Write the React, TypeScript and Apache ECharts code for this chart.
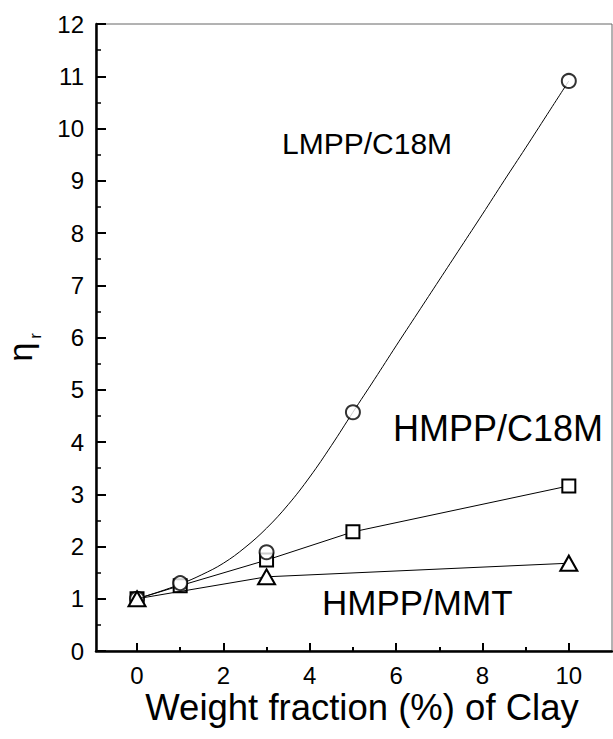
import React, { useEffect, useRef } from "react";
import * as echarts from "echarts";

const xMajorTicks = [0, 2, 4, 6, 8, 10];
const xMinorTicks = [1, 3, 5, 7, 9];

const lmppPoints: [number, number][] = [
  [0, 1.0], [1, 1.3], [3, 1.89], [5, 4.57], [10, 10.91],
];
const lmppCurve: [number, number][] = [
  [0, 1.0], [0.5, 1.13], [1, 1.28], [1.5, 1.46], [2, 1.68], [2.5, 1.98], [3, 2.35],
  [3.5, 2.8], [4, 3.33], [4.5, 3.93], [5, 4.57], [5.5, 5.2], [6, 5.84], [6.5, 6.47],
  [7, 7.1], [7.5, 7.73], [8, 8.36], [8.5, 9.0], [9, 9.63], [9.5, 10.27], [10, 10.91],
];
const hmppC18M: [number, number][] = [
  [0, 1.0], [1, 1.25], [3, 1.74], [5, 2.28], [10, 3.16],
];
const hmppMMT: [number, number][] = [
  [0, 1.0], [3, 1.42], [10, 1.68],
];

const FONT = "Liberation Sans, Arial, sans-serif";

export default function App() {
  const ref = useRef<HTMLDivElement>(null);
  useEffect(() => {
    if (!ref.current) return;
    const chart = echarts.init(ref.current, undefined, { renderer: "svg" });
    const markerStyle = { color: "#fff", borderColor: "#000", borderWidth: 2 };
    chart.setOption({
      animation: false,
      backgroundColor: "#fff",
      grid: {
        left: 96, top: 24, right: 1, bottom: 88,
        show: true, borderColor: "#666", borderWidth: 1,
      },
      xAxis: [
        {
          type: "value", min: -0.95, max: 11,
          axisLine: { show: true, onZero: false, lineStyle: { color: "#000", width: 2.5 } },
          axisTick: { show: true, inside: true, length: 8, customValues: xMajorTicks, lineStyle: { color: "#000", width: 2 } },
          axisLabel: { show: true, customValues: xMajorTicks, margin: 12, fontSize: 24, color: "#000", fontFamily: FONT },
          splitLine: { show: false },
        },
        {
          type: "value", min: -0.95, max: 11, position: "bottom",
          axisLine: { show: false, onZero: false },
          axisTick: { show: true, inside: true, length: 4, customValues: xMinorTicks, lineStyle: { color: "#000", width: 2 } },
          axisLabel: { show: false },
          splitLine: { show: false },
        },
      ],
      yAxis: {
        type: "value", min: 0, max: 12, interval: 1,
        axisLine: { show: true, onZero: false, lineStyle: { color: "#000", width: 2.5 } },
        axisTick: { show: true, inside: true, length: 10, lineStyle: { color: "#000", width: 2 } },
        minorTick: { show: true, splitNumber: 2, length: 5, lineStyle: { color: "#000", width: 1.5 } },
        axisLabel: { margin: 12, fontSize: 24, color: "#000", fontFamily: FONT },
        splitLine: { show: false },
      },
      series: [
        {
          type: "line", data: lmppCurve, smooth: 0.4, symbol: "none",
          lineStyle: { color: "#000", width: 1 }, z: 2,
        },
        {
          type: "line", data: hmppC18M, symbol: "rect", symbolSize: 13, showAllSymbol: true,
          lineStyle: { color: "#000", width: 1 }, itemStyle: markerStyle, z: 3,
        },
        {
          type: "scatter", data: lmppPoints, symbol: "circle", symbolSize: 14,
          itemStyle: markerStyle, z: 4,
        },
        {
          type: "line", data: hmppMMT, symbol: "triangle", symbolSize: [17, 15], showAllSymbol: true,
          lineStyle: { color: "#000", width: 1 }, itemStyle: markerStyle, z: 5,
        },
      ],
      graphic: [
        { type: "text", left: 282, top: 128, style: { text: "LMPP/C18M", fontSize: 30, fontFamily: FONT, fill: "#000" } },
        { type: "text", left: 393, top: 410, style: { text: "HMPP/C18M", fontSize: 36, fontFamily: FONT, fill: "#000" } },
        { type: "text", left: 322, top: 585, style: { text: "HMPP/MMT", fontSize: 35, fontFamily: FONT, fill: "#000" } },
        { type: "text", x: 362, y: 707, style: { text: "Weight fraction (%) of Clay", fontSize: 36.5, fontFamily: FONT, fill: "#000", align: "center", verticalAlign: "middle" } },
        { type: "text", x: 20, y: 352, rotation: Math.PI / 2, style: { text: "η", fontSize: 34, fontFamily: FONT, fill: "#000", align: "center", verticalAlign: "middle" } },
        { type: "text", x: 35, y: 336, rotation: Math.PI / 2, style: { text: "r", fontSize: 17, fontFamily: FONT, fill: "#000", align: "center", verticalAlign: "middle" } },
      ],
    });
    return () => chart.dispose();
  }, []);
  return <div ref={ref} style={{ position: "absolute", left: 0, top: 0, width: 613, height: 739 }} />;
}
